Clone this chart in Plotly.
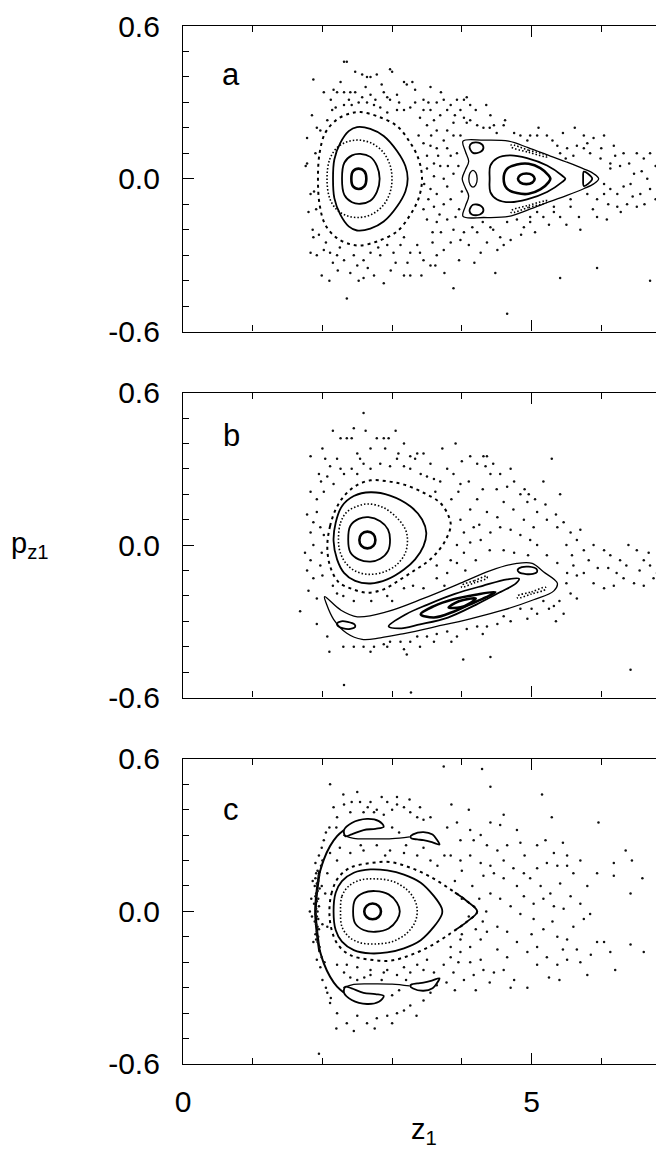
import plotly.graph_objects as go

# ---------------- tick labels ----------------
X_TICKS = [0, 5]
X_TICKTEXT = ["0", "5"]
X_MINOR = [1, 2, 3, 4, 6]
Y_TICKS = [-0.6, 0.0, 0.6]
Y_TICKTEXT = ["-0.6", "0.0", "0.6"]
Y_MINOR = [-0.5, -0.4, -0.3, -0.2, -0.1, 0.1, 0.2, 0.3, 0.4, 0.5]
PANEL_LABELS = ["a", "b", "c"]

# ---------------- panel a : invariant curves (z1, pz1) ----------------
A_R1 = [(2.415, 0), (2.44, 0.030), (2.52, 0.040), (2.60, 0.030), (2.63, 0), (2.60, -0.030), (2.52, -0.040), (2.44, -0.030), (2.415, 0)]
A_R2 = [(2.281, 0), (2.314, 0.063), (2.424, 0.092), (2.544, 0.098), (2.687, 0.086), (2.783, 0.050), (2.821, 0),
        (2.783, -0.050), (2.687, -0.086), (2.544, -0.098), (2.424, -0.092), (2.314, -0.063), (2.281, 0)]
A_R3 = [(2.066, 0), (2.104, 0.076), (2.209, 0.122), (2.353, 0.145), (2.520, 0.152), (2.711, 0.139), (2.879, 0.102),
        (2.974, 0.050), (2.998, 0), (2.974, -0.050), (2.879, -0.102), (2.711, -0.139), (2.520, -0.152), (2.353, -0.145),
        (2.209, -0.122), (2.104, -0.076), (2.066, 0)]
A_R4 = [(2.152, 0), (2.171, 0.076), (2.257, 0.141), (2.377, 0.187), (2.496, 0.203), (2.687, 0.196), (2.879, 0.168),
        (3.070, 0.109), (3.190, 0.050), (3.223, 0), (3.190, -0.050), (3.070, -0.109), (2.879, -0.168), (2.687, -0.196),
        (2.496, -0.203), (2.377, -0.187), (2.257, -0.141), (2.171, -0.076), (2.152, 0)]
A_R5 = [(1.936, 0), (1.960, 0.102), (2.042, 0.181), (2.209, 0.233), (2.400, 0.257), (2.544, 0.262), (2.783, 0.246),
        (3.070, 0.207), (3.261, 0.141), (3.381, 0.076), (3.429, 0), (3.381, -0.076), (3.261, -0.141), (3.070, -0.207),
        (2.783, -0.246), (2.544, -0.262), (2.400, -0.257), (2.209, -0.233), (2.042, -0.181), (1.960, -0.102), (1.936, 0)]
A_BAT = [(4.017, 0.148), (4.313, 0.152), (4.672, 0.148), (4.95, 0.122), (5.27, 0.089), (5.50, 0.066), (5.748, 0.039),
         (5.891, 0.020), (5.963, 0), (5.891, -0.020), (5.748, -0.039), (5.50, -0.066), (5.27, -0.089), (4.95, -0.122),
         (4.672, -0.148), (4.313, -0.152), (4.017, -0.148), (4.050, -0.108), (4.098, -0.068), (4.050, -0.035),
         (4.005, 0), (4.050, 0.035), (4.098, 0.068), (4.050, 0.108), (4.017, 0.148)]
A_TL = [(4.11, 0.126), (4.15, 0.141), (4.26, 0.140), (4.31, 0.124), (4.27, 0.106), (4.16, 0.102), (4.11, 0.126)]
A_BL = [(4.11, -0.126), (4.15, -0.141), (4.26, -0.140), (4.31, -0.124), (4.27, -0.106), (4.16, -0.102), (4.11, -0.126)]
A_ML = [(4.10, 0), (4.12, 0.024), (4.16, 0.033), (4.20, 0.024), (4.22, 0), (4.20, -0.024), (4.16, -0.033), (4.12, -0.024), (4.10, 0)]
A_TIP = [(5.74, 0), (5.75, 0.028), (5.81, 0.020), (5.87, 0), (5.81, -0.020), (5.75, -0.028), (5.74, 0)]
A_IN1 = [(4.399, 0), (4.409, 0.052), (4.505, 0.081), (4.696, 0.092), (4.935, 0.081), (5.222, 0.052), (5.437, 0.013),
         (5.485, 0), (5.437, -0.013), (5.222, -0.052), (4.935, -0.081), (4.696, -0.092), (4.505, -0.081), (4.409, -0.052), (4.399, 0)]
A_IN2 = [(4.600, 0), (4.648, 0.039), (4.791, 0.056), (4.959, 0.059), (5.126, 0.042), (5.246, 0.013), (5.270, 0),
         (5.246, -0.013), (5.126, -0.042), (4.959, -0.059), (4.791, -0.056), (4.648, -0.039), (4.600, 0)]
A_IN3 = [(4.805, 0), (4.84, 0.015), (4.925, 0.021), (5.01, 0.015), (5.045, 0), (5.01, -0.015), (4.925, -0.021), (4.84, -0.015), (4.805, 0)]
A_CH_T = [(4.71, 0.133), (4.96, 0.112), (5.22, 0.092), (5.23, 0.086), (4.96, 0.104), (4.71, 0.125), (4.71, 0.133)]
A_CH_B = [(4.71, -0.133), (4.96, -0.112), (5.22, -0.092), (5.23, -0.086), (4.96, -0.104), (4.71, -0.125), (4.71, -0.133)]

A_SCATTER = [
    (2.31, 0.46), (2.35, 0.46), (2.47, 0.42), (2.57, 0.41), (2.64, 0.40), (2.69, 0.40), (2.78, 0.41), (2.97, 0.43), (3.00, 0.42), (1.87, 0.39),
    (2.02, 0.34), (2.16, 0.35), (2.21, 0.34), (2.31, 0.34), (2.40, 0.34), (2.47, 0.34), (2.57, 0.32), (2.69, 0.33), (2.76, 0.31), (2.88, 0.34),
    (2.93, 0.32), (2.97, 0.31), (3.07, 0.33), (3.17, 0.38), (3.21, 0.37), (3.29, 0.38), (3.33, 0.35), (3.45, 0.31), (3.55, 0.36), (3.64, 0.30),
    (3.74, 0.31), (3.84, 0.29), (3.93, 0.31), (4.03, 0.31), (4.07, 0.32), (4.12, 0.29), (3.98, 0.27), (3.79, 0.27), (3.69, 0.25), (3.55, 0.27),
    (3.45, 0.27), (3.33, 0.30), (3.26, 0.28), (3.17, 0.27), (3.07, 0.27), (2.93, 0.26), (2.83, 0.28), (2.74, 0.29), (2.64, 0.30), (2.52, 0.30),
    (2.42, 0.29), (2.31, 0.29), (2.19, 0.28), (2.14, 0.27), (2.07, 0.23), (1.97, 0.19), (1.92, 0.20), (1.78, 0.16),
    (4.03, 0.24), (4.12, 0.23), (4.07, 0.22), (4.41, 0.25), (4.46, 0.21), (4.62, 0.23), (4.60, 0.21), (4.31, 0.20), (4.22, 0.21), (3.88, 0.22),
    (3.79, 0.19), (3.64, 0.19), (3.60, 0.23), (3.50, 0.21), (3.38, 0.17), (3.45, 0.14), (3.55, 0.13), (3.64, 0.12), (3.79, 0.12), (3.88, 0.17),
    (3.98, 0.17), (3.74, 0.15), (3.50, 0.09), (3.60, 0.06), (3.69, 0.05), (3.84, 0.09), (3.93, 0.10), (3.88, 0.02), (3.74, 0.00), (3.60, 0.01),
    (3.50, 0.04), (3.46, -0.02), (3.55, -0.04), (3.64, -0.06), (3.79, -0.03), (3.84, -0.08), (3.74, -0.10), (3.60, -0.11), (3.45, -0.12), (3.50, -0.16),
    (3.64, -0.17), (3.79, -0.16), (3.91, -0.15), (3.88, -0.20), (4.03, -0.21), (4.15, -0.19), (3.98, -0.24), (3.84, -0.25), (3.74, -0.28), (3.64, -0.30),
    (3.55, -0.34), (3.45, -0.32), (3.36, -0.26), (3.26, -0.29), (3.17, -0.23), (3.12, -0.26), (3.02, -0.29), (2.93, -0.26), (2.83, -0.30), (2.69, -0.29),
    (2.59, -0.32), (2.50, -0.34), (2.40, -0.37), (2.31, -0.32), (2.21, -0.30), (2.11, -0.29), (2.02, -0.28), (1.92, -0.30), (1.83, -0.29), (1.87, -0.23),
    (1.91, -0.12), (1.80, -0.13), (1.83, -0.06), (1.78, 0.06), (1.76, 0.05), (1.99, -0.38), (2.59, -0.39), (2.74, -0.38), (2.88, -0.41), (3.17, -0.38),
    (3.26, -0.38), (3.62, -0.34), (3.88, -0.43), (2.35, -0.47),
    (4.22, -0.21), (4.41, -0.19), (4.55, -0.23), (4.70, -0.24), (4.65, -0.17), (4.79, -0.16), (4.89, -0.19), (4.98, -0.15), (5.08, -0.13), (5.17, -0.15),
    (5.32, -0.11), (5.41, -0.15), (5.56, -0.11), (5.70, -0.20), (5.94, -0.15), (6.08, -0.16), (6.23, -0.11), (6.37, -0.10), (6.51, -0.11), (6.56, -0.06),
    (6.70, -0.04), (6.85, 0.01), (6.88, -0.11), (6.66, 0.00), (6.47, 0.02), (6.27, 0.05), (6.13, 0.06), (6.04, -0.02), (6.13, -0.04), (6.23, -0.06),
    (6.32, -0.03), (6.42, -0.02), (6.61, 0.08), (6.70, 0.10), (6.51, 0.10), (6.32, 0.10), (6.18, 0.13), (6.04, 0.17), (5.89, 0.16), (5.75, 0.17),
    (5.65, 0.13), (5.51, 0.12), (5.37, 0.13), (5.22, 0.17), (5.08, 0.17), (4.94, 0.15), (4.84, 0.17), (4.98, 0.17), (5.94, -0.35), (5.41, -0.39),
    (6.70, -0.40), (4.65, -0.53), (4.48, -0.37), (5.56, -0.08), (5.80, -0.06), (5.94, -0.08), (6.04, -0.06), (6.13, 0.04), (5.99, 0.08), (5.84, 0.10),
    (5.60, 0.09), (5.75, 0.12), (5.41, 0.10), (5.49, 0.08), (5.32, -0.13), (4.98, -0.17), (4.36, -0.25), (4.27, -0.29), (4.51, -0.28), (4.60, -0.26),
    (1.85, 0.25), (1.90, 0.10), (1.88, -0.05), (1.86, -0.20), (1.95, -0.22), (2.05, -0.25), (2.15, -0.33), (2.25, -0.27), (2.45, -0.30), (2.65, -0.35),
    (2.80, -0.27), (3.05, -0.33), (3.22, -0.33), (3.40, -0.29), (3.58, -0.25), (3.70, -0.21), (3.58, -0.21), (3.52, -0.08), (3.68, -0.14), (3.96, -0.12),
    (4.10, -0.26), (4.18, -0.33), (3.96, -0.32), (3.75, -0.37), (3.42, -0.38), (2.98, -0.36), (2.52, -0.40), (2.22, -0.36), (2.10, -0.40),
    (2.12, 0.31), (2.26, 0.38), (2.38, 0.31), (2.62, 0.36), (2.85, 0.37), (3.10, 0.30), (3.40, 0.24), (3.52, 0.30), (3.70, 0.34), (3.90, 0.25),
    (4.20, 0.27), (4.35, 0.29), (4.50, 0.18), (3.95, 0.05), (4.00, -0.05), (3.66, 0.09), (3.56, 0.17), (3.80, 0.05),
    (5.10, 0.20), (5.30, 0.15), (5.45, 0.18), (5.62, 0.20), (5.80, 0.14), (6.00, 0.12), (6.20, 0.09), (6.40, 0.06), (6.58, 0.03), (6.78, 0.05),
    (6.78, -0.08), (6.62, -0.10), (6.45, -0.07), (6.28, -0.13), (6.10, -0.10), (5.88, -0.12), (5.68, -0.15), (5.50, -0.18), (5.25, -0.18), (5.05, -0.21),
    (4.85, -0.22), (4.45, -0.20), (4.30, -0.17), (4.40, 0.20), (4.75, 0.18),
]

# ---------------- panel b ----------------
B_R1 = [(2.53, 0.020), (2.56, 0.043), (2.645, 0.053), (2.73, 0.043), (2.76, 0.020), (2.73, -0.003), (2.645, -0.013), (2.56, -0.003), (2.53, 0.020)]
B_R2 = [(2.37, 0.022), (2.40, 0.075), (2.52, 0.103), (2.66, 0.110), (2.83, 0.094), (2.94, 0.062), (2.97, 0.022),
        (2.94, -0.024), (2.83, -0.054), (2.69, -0.065), (2.52, -0.056), (2.40, -0.028), (2.37, 0.022)]
B_R3 = [(2.23, 0.022), (2.26, 0.088), (2.35, 0.130), (2.50, 0.153), (2.66, 0.162), (2.88, 0.147), (3.07, 0.107), (3.19, 0.062),
        (3.22, 0.022), (3.19, -0.030), (3.07, -0.076), (2.88, -0.106), (2.66, -0.115), (2.47, -0.102), (2.33, -0.069), (2.25, -0.024), (2.23, 0.022)]
B_R4 = [(2.16, 0.016), (2.19, 0.088), (2.28, 0.153), (2.45, 0.193), (2.69, 0.208), (2.97, 0.195), (3.26, 0.153), (3.43, 0.101),
        (3.49, 0.048), (3.45, -0.004), (3.33, -0.056), (3.17, -0.096), (2.93, -0.135), (2.69, -0.151), (2.47, -0.141), (2.31, -0.109),
        (2.21, -0.056), (2.16, 0.016)]
B_R5 = [(2.07, -0.004), (2.11, 0.075), (2.19, 0.140), (2.31, 0.193), (2.47, 0.232), (2.69, 0.255), (2.93, 0.251), (3.17, 0.238),
        (3.45, 0.206), (3.69, 0.166), (3.81, 0.114), (3.84, 0.075), (3.76, 0.016), (3.64, -0.030), (3.50, -0.067), (3.33, -0.098),
        (3.12, -0.135), (2.88, -0.174), (2.64, -0.187), (2.42, -0.172), (2.23, -0.145), (2.11, -0.083), (2.07, -0.004)]
B_BAND = [(2.03, -0.203), (2.26, -0.255), (2.50, -0.282), (2.93, -0.262), (3.45, -0.210), (3.98, -0.150), (4.41, -0.100),
          (4.79, -0.072), (5.01, -0.072), (5.17, -0.105), (5.37, -0.150), (5.32, -0.180), (5.03, -0.215), (4.60, -0.255),
          (4.12, -0.290), (3.64, -0.320), (3.17, -0.348), (2.83, -0.365), (2.57, -0.371), (2.35, -0.347), (2.16, -0.292),
          (2.06, -0.233), (2.03, -0.203)]
B_C1 = [(3.81, -0.245), (3.90, -0.228), (4.02, -0.216), (4.20, -0.210), (4.12, -0.228), (3.98, -0.245), (3.81, -0.245)]
B_C2 = [(3.41, -0.272), (3.60, -0.240), (3.88, -0.213), (4.20, -0.195), (4.48, -0.185), (4.35, -0.205), (4.10, -0.235),
        (3.88, -0.262), (3.60, -0.285), (3.41, -0.272)]
B_C3 = [(2.95, -0.320), (3.20, -0.272), (3.50, -0.235), (3.90, -0.192), (4.30, -0.160), (4.65, -0.135), (4.82, -0.132),
        (4.78, -0.150), (4.55, -0.185), (4.20, -0.235), (3.80, -0.285), (3.40, -0.312), (3.10, -0.328), (2.95, -0.320)]
B_I1 = [(4.80, -0.098), (4.86, -0.087), (4.96, -0.085), (5.07, -0.094), (5.08, -0.105), (5.02, -0.113), (4.92, -0.114), (4.82, -0.107), (4.80, -0.098)]
B_I2 = [(4.00, -0.158), (4.18, -0.140), (4.36, -0.122), (4.36, -0.130), (4.18, -0.148), (4.00, -0.166), (4.00, -0.158)]
B_I3 = [(4.80, -0.200), (5.00, -0.184), (5.20, -0.166), (5.20, -0.174), (5.00, -0.192), (4.80, -0.208), (4.80, -0.200)]
B_I4 = [(2.21, -0.308), (2.27, -0.300), (2.36, -0.302), (2.46, -0.312), (2.47, -0.322), (2.40, -0.330), (2.30, -0.328), (2.22, -0.318), (2.21, -0.308)]

B_SCATTER = [
    (2.59, 0.52), (3.91, 0.40), (4.31, 0.35), (4.36, 0.35), (5.29, 0.34), (5.17, 0.25), (4.96, 0.20), (5.41, 0.20), (6.42, -0.49), (2.31, -0.55),
    (3.27, -0.58), (4.41, -0.44), (3.21, -0.43),
    (1.83, 0.35), (2.04, 0.34), (2.11, 0.31), (2.21, 0.34), (2.26, 0.42), (2.35, 0.42), (2.42, 0.42), (2.50, 0.36), (2.54, 0.34), (2.69, 0.38),
    (2.78, 0.42), (2.88, 0.42), (2.95, 0.42), (3.09, 0.36), (3.17, 0.40), (3.26, 0.35), (3.36, 0.36), (3.45, 0.36), (3.33, 0.34),
    (2.07, 0.27), (2.16, 0.24), (2.26, 0.30), (2.31, 0.28), (2.42, 0.30), (2.50, 0.28), (2.59, 0.32), (2.69, 0.30), (2.83, 0.32), (2.97, 0.31),
    (3.07, 0.34), (3.17, 0.31), (3.26, 0.30), (3.41, 0.28), (3.50, 0.27), (3.60, 0.26), (3.69, 0.25), (3.79, 0.30), (3.88, 0.28), (3.98, 0.24),
    (4.12, 0.35), (4.22, 0.32), (4.34, 0.31), (4.41, 0.28), (4.55, 0.28), (4.65, 0.23), (4.84, 0.20), (4.94, 0.17), (5.08, 0.13), (5.22, 0.10),
    (5.37, 0.07), (5.46, 0.09), (5.56, 0.05), (5.65, 0.02), (5.75, -0.02), (5.89, 0.00), (6.04, -0.02), (6.13, -0.04), (6.27, -0.06), (6.39, 0.00),
    (6.51, -0.02), (6.61, -0.06), (6.70, -0.08), (6.80, -0.11), (6.88, -0.12), (6.75, -0.13), (6.61, -0.16), (6.47, -0.15), (6.32, -0.13), (6.18, -0.16),
    (6.04, -0.17), (5.89, -0.15), (5.75, -0.11), (5.60, -0.08), (5.65, -0.12), (5.56, -0.19), (5.65, -0.21), (5.46, -0.27), (5.32, -0.24), (5.17, -0.22),
    (5.08, -0.27), (4.94, -0.29), (4.84, -0.25), (4.60, -0.28), (4.51, -0.31), (4.36, -0.32), (4.22, -0.32), (4.07, -0.33), (3.93, -0.36), (3.79, -0.34),
    (3.64, -0.35), (3.50, -0.36), (3.36, -0.36), (3.26, -0.38), (3.12, -0.38), (2.97, -0.38), (2.88, -0.39), (2.74, -0.40), (2.59, -0.40), (2.45, -0.40),
    (2.69, -0.42), (2.93, -0.40), (3.17, -0.41),
    (1.92, -0.31), (2.07, -0.36), (1.87, -0.13), (1.92, -0.21), (1.68, -0.26), (1.78, -0.10), (1.83, -0.06), (1.87, 0.00), (1.83, 0.05), (1.87, 0.09),
    (1.92, 0.13), (1.92, 0.18), (2.02, 0.21), (1.83, 0.21), (1.97, 0.07), (2.02, 0.04), (1.99, -0.03), (1.97, -0.08), (2.15, -0.16), (2.21, -0.19),
    (2.93, -0.20), (3.17, -0.17), (3.45, -0.17), (3.64, -0.13), (3.79, -0.11), (3.93, -0.07), (4.03, -0.03), (4.12, 0.01), (4.27, 0.02), (4.41, 0.05),
    (4.55, 0.07), (4.70, 0.06), (4.84, 0.04), (4.98, 0.02), (5.08, 0.00), (5.22, -0.04), (5.37, -0.07), (5.51, -0.11),
    (3.98, 0.10), (4.12, 0.14), (4.22, 0.18), (4.36, 0.13), (4.51, 0.11), (4.60, 0.17), (4.74, 0.14), (4.89, 0.10), (5.03, 0.07), (4.03, 0.05),
    (4.17, 0.07), (3.93, 0.00), (3.84, -0.06), (3.64, -0.08),
    (1.95, 0.28), (2.00, 0.38), (2.15, 0.45), (2.45, 0.46), (2.62, 0.45), (2.90, 0.38), (3.05, 0.45), (3.55, 0.32), (3.72, 0.38), (4.00, 0.33),
    (4.45, 0.32), (4.70, 0.30), (3.62, 0.21), (3.85, 0.18), (3.95, 0.21), (4.10, 0.25), (4.30, 0.22), (4.50, 0.22), (4.75, 0.25), (4.90, 0.22),
    (5.05, 0.18), (5.20, 0.16), (5.35, 0.12), (5.50, 0.00), (5.58, -0.04), (5.70, 0.06), (5.82, -0.06), (5.95, -0.09), (6.10, -0.09), (6.22, -0.11),
    (6.36, -0.08), (6.55, -0.10), (6.68, -0.03), (6.82, -0.05), (4.25, 0.08), (4.40, -0.02), (4.60, -0.02), (4.75, -0.03), (4.95, -0.04), (4.20, -0.06),
    (4.05, -0.10), (3.75, -0.16), (3.30, -0.16), (3.00, -0.22), (2.70, -0.22), (2.45, -0.22), (2.30, -0.20), (1.80, -0.18), (1.75, -0.03), (1.78, 0.12),
    (1.98, 0.25), (2.00, -0.12), (2.10, -0.42), (2.30, -0.40), (3.40, -0.40), (3.60, -0.38), (3.85, -0.38), (4.30, -0.35), (4.70, -0.30), (5.00, -0.25),
    (5.25, -0.25), (5.40, -0.22), (5.50, -0.15), (5.35, -0.30), (4.02, -0.45),
]

# ---------------- panel c ----------------
C_R1 = [(2.60, 0), (2.635, 0.022), (2.72, 0.031), (2.805, 0.022), (2.84, 0), (2.805, -0.022), (2.72, -0.031), (2.635, -0.022), (2.60, 0)]
C_R2 = [(2.44, 0), (2.47, 0.047), (2.59, 0.073), (2.76, 0.080), (2.95, 0.067), (3.07, 0.034), (3.11, 0),
        (3.07, -0.034), (2.95, -0.067), (2.76, -0.080), (2.59, -0.073), (2.47, -0.047), (2.44, 0)]
C_R3 = [(2.26, 0), (2.28, 0.060), (2.38, 0.100), (2.54, 0.123), (2.76, 0.128), (3.00, 0.119), (3.21, 0.086), (3.33, 0.041),
        (3.36, 0), (3.33, -0.041), (3.21, -0.086), (3.00, -0.119), (2.76, -0.128), (2.54, -0.123), (2.38, -0.100), (2.28, -0.060), (2.26, 0)]
C_R4 = [(2.16, 0), (2.19, 0.073), (2.28, 0.119), (2.45, 0.152), (2.69, 0.165), (2.93, 0.161), (3.17, 0.145), (3.41, 0.113),
        (3.60, 0.060), (3.71, 0.014), (3.72, 0), (3.71, -0.014), (3.60, -0.060), (3.41, -0.113), (3.17, -0.145), (2.93, -0.161),
        (2.69, -0.165), (2.45, -0.152), (2.28, -0.119), (2.19, -0.073), (2.16, 0)]
C_R5 = [(2.10, 0), (2.13, 0.070), (2.22, 0.130), (2.40, 0.172), (2.69, 0.190), (2.97, 0.194), (3.26, 0.172), (3.55, 0.136),
        (3.84, 0.086), (4.07, 0.041), (4.22, 0), (4.07, -0.041), (3.84, -0.086), (3.55, -0.136), (3.26, -0.172), (2.97, -0.194),
        (2.69, -0.190), (2.40, -0.172), (2.22, -0.130), (2.13, -0.070), (2.10, 0)]
C_TIP = [(3.90, 0.074), (4.07, 0.041), (4.22, 0), (4.07, -0.041), (3.90, -0.074)]
C_CR_T = [(2.31, 0.320), (2.42, 0.348), (2.64, 0.364), (2.81, 0.355), (2.88, 0.333), (2.76, 0.325), (2.59, 0.320), (2.42, 0.303), (2.33, 0.296), (2.31, 0.320)]
C_CR_B = [(2.31, -0.320), (2.42, -0.348), (2.64, -0.364), (2.81, -0.355), (2.88, -0.333), (2.76, -0.325), (2.59, -0.320), (2.42, -0.303), (2.33, -0.296), (2.31, -0.320)]
C_TD_T = [(3.26, 0.293), (3.30, 0.303), (3.45, 0.312), (3.58, 0.302), (3.64, 0.283), (3.68, 0.263), (3.57, 0.272), (3.45, 0.280), (3.36, 0.283), (3.28, 0.287), (3.26, 0.293)]
C_TD_B = [(3.26, -0.293), (3.30, -0.303), (3.45, -0.312), (3.58, -0.302), (3.64, -0.283), (3.68, -0.263), (3.57, -0.272), (3.45, -0.280), (3.36, -0.283), (3.28, -0.287), (3.26, -0.293)]
C_LN_T = [(2.30, 0.300), (2.45, 0.287), (2.70, 0.285), (3.00, 0.286), (3.25, 0.293)]
C_LN_B = [(2.30, -0.300), (2.45, -0.287), (2.70, -0.285), (3.00, -0.286), (3.25, -0.293)]
C_ARC_T = [(2.31, 0.320), (2.21, 0.296), (2.11, 0.257), (2.02, 0.204), (1.96, 0.152)]
C_ARC_B = [(1.96, -0.152), (2.02, -0.204), (2.11, -0.257), (2.21, -0.296), (2.31, -0.320)]
C_BAND = [(1.96, 0.16), (1.93, 0.10), (1.91, 0.05), (1.90, 0.0), (1.91, -0.05), (1.93, -0.10), (1.96, -0.16)]

C_SCATTER = [
    (3.74, 0.57), (4.29, 0.56), (4.41, 0.49), (5.15, 0.46), (5.29, 0.37), (5.96, 0.35), (6.85, 0.49), (2.11, 0.50), (3.07, 0.45), (1.95, -0.56),
    (6.35, 0.24), (6.44, 0.20), (6.18, 0.19), (5.94, 0.15), (6.18, 0.14), (6.59, 0.13), (6.42, 0.07), (6.85, -0.14), (6.61, -0.16), (6.42, -0.13),
    (6.13, -0.16), (6.20, -0.23), (5.80, -0.25), (5.94, -0.12), (6.04, -0.12),
    (2.16, 0.41), (2.31, 0.42), (2.42, 0.43), (2.54, 0.43), (2.69, 0.43), (2.78, 0.40), (2.93, 0.43), (3.07, 0.42), (3.17, 0.41), (3.26, 0.39),
    (3.36, 0.37), (3.45, 0.36), (3.55, 0.37), (2.21, 0.37), (2.40, 0.39), (2.59, 0.39), (2.74, 0.39), (2.88, 0.38),
    (3.79, 0.33), (3.93, 0.35), (4.12, 0.32), (4.27, 0.30), (4.41, 0.35), (4.55, 0.34), (4.79, 0.32), (3.98, 0.28), (4.17, 0.28), (4.36, 0.26),
    (4.51, 0.24), (4.65, 0.26), (4.84, 0.27), (5.08, 0.26), (5.32, 0.23), (5.51, 0.22), (3.84, 0.22), (3.98, 0.20), (4.12, 0.22), (4.27, 0.19),
    (4.41, 0.18), (4.60, 0.20), (4.74, 0.17), (4.89, 0.15), (5.08, 0.17), (5.22, 0.19), (5.37, 0.18), (5.51, 0.18), (5.60, 0.15), (4.98, 0.13),
    (5.13, 0.10), (5.27, 0.07), (5.41, 0.11), (5.56, 0.06), (5.70, 0.03), (5.84, -0.01), (5.75, -0.03), (5.60, -0.06), (5.46, 0.01), (5.32, 0.02),
    (5.17, 0.05), (5.03, 0.03), (4.89, 0.06), (4.79, 0.10), (4.60, 0.13), (4.46, 0.15), (4.31, 0.14), (4.41, 0.07), (4.55, 0.05), (4.70, 0.02),
    (4.84, -0.01), (5.03, -0.03), (5.17, -0.07), (5.37, -0.10), (5.51, -0.11), (5.65, -0.15), (5.51, -0.19), (5.37, -0.21), (5.22, -0.18), (5.08, -0.14),
    (4.94, -0.16), (4.79, -0.12), (4.65, -0.08), (4.51, -0.06), (4.36, -0.08), (4.27, -0.11), (4.12, -0.14), (3.98, -0.16), (3.84, -0.18), (3.74, -0.21),
    (3.88, -0.24), (4.03, -0.27), (4.17, -0.25), (4.31, -0.23), (4.46, -0.24), (4.60, -0.23), (4.75, -0.27), (4.94, -0.30), (5.08, -0.21), (4.65, -0.18),
    (4.51, -0.15), (4.27, -0.19), (4.12, -0.20), (3.98, -0.11), (3.84, -0.14), (3.50, -0.19),
    (2.21, -0.40), (2.35, -0.44), (2.50, -0.41), (2.64, -0.44), (2.78, -0.42), (2.93, -0.41), (3.07, -0.40), (3.17, -0.39), (3.26, -0.37), (3.45, -0.35),
    (3.55, -0.32), (3.64, -0.29), (2.11, -0.36), (2.07, -0.32), (2.21, -0.21), (2.35, -0.21), (2.50, -0.22), (2.69, -0.23), (2.93, -0.23), (3.17, -0.22),
    (3.36, -0.21), (3.45, -0.23), (3.26, -0.24), (3.07, -0.25), (2.88, -0.24), (2.69, -0.25), (2.50, -0.27), (2.31, -0.24),
    (2.11, 0.23), (2.21, 0.20), (2.40, 0.23), (2.59, 0.24), (2.78, 0.26), (2.97, 0.24), (3.17, 0.23), (3.36, 0.22), (3.55, 0.20), (2.07, 0.15),
    (2.04, 0.07), (2.07, -0.06), (3.00, 0.33), (3.10, 0.31), (3.00, -0.33), (3.10, -0.31),
    (1.93, 0.16), (1.91, 0.15), (1.95, 0.14), (1.90, 0.13), (1.94, 0.12), (1.92, 0.11), (1.89, 0.10), (1.96, 0.09), (1.93, 0.08), (1.91, 0.07),
    (1.90, 0.06), (1.94, 0.05), (1.92, 0.04), (1.88, 0.03), (1.95, 0.02), (1.91, 0.01), (1.93, 0.00), (1.90, -0.01), (1.92, -0.02), (1.94, -0.03),
    (1.89, -0.04), (1.91, -0.05), (1.93, -0.06), (1.95, -0.07), (1.92, -0.08), (1.90, -0.09), (1.94, -0.10), (1.91, -0.11), (1.93, -0.12), (1.96, -0.14),
    (1.84, 0.05), (1.85, -0.02), (1.82, 0.00), (1.99, 0.10), (2.00, -0.05), (1.86, 0.12), (1.87, -0.12), (1.98, 0.18), (1.99, -0.18), (1.95, 0.22),
    (1.97, -0.22), (1.99, 0.25), (2.02, 0.28), (2.00, -0.27), (2.05, -0.30), (2.05, 0.31), (2.10, 0.33), (2.12, -0.34), (2.00, 0.20), (2.03, -0.20),
    (1.90, 0.19), (1.92, -0.19),
    (2.30, 0.46), (2.50, 0.47), (2.65, 0.41), (2.85, 0.45), (3.00, 0.40), (3.25, 0.44), (3.40, 0.41), (2.20, 0.33), (2.25, 0.25), (2.55, 0.26),
    (2.90, 0.22), (3.20, 0.26), (3.45, 0.25), (3.75, 0.22), (3.65, 0.18), (3.90, 0.12), (4.00, 0.16), (4.15, 0.10), (4.25, 0.05), (4.35, 0.00),
    (4.30, -0.04), (4.20, -0.07), (4.00, -0.09), (3.95, -0.20), (3.78, -0.28), (3.60, -0.24), (2.40, -0.26), (2.60, -0.26), (2.85, -0.27), (3.20, -0.27),
    (2.20, -0.46), (2.45, -0.47), (2.75, -0.46), (3.00, -0.44), (3.35, -0.41), (3.90, -0.31), (4.20, -0.31), (4.40, -0.28), (4.70, -0.30), (5.25, -0.26),
    (5.40, -0.27), (5.70, -0.20), (5.85, -0.17), (5.00, -0.09), (5.30, -0.04), (5.45, -0.15), (4.90, 0.22), (5.20, 0.28), (5.45, 0.27), (5.70, 0.20),
    (5.80, 0.10), (4.10, 0.40), (4.60, 0.38), (3.85, 0.42), (4.00, 0.05), (4.10, -0.02),
]

# ---------------- styles ----------------
THICK = dict(width=2.6)
SOLID = dict(width=1.8)
THIN = dict(width=1.3)
DOTTED = dict(width=1.6, dash="1.5px,2px")
DASHED = dict(width=2.0, dash="3px,4px")

PANELS = [
    ("x", "y", [(A_R1, THICK), (A_R2, SOLID), (A_R3, DOTTED), (A_R4, SOLID), (A_R5, DASHED), (A_BAT, THIN),
                (A_TL, SOLID), (A_BL, SOLID), (A_ML, THIN), (A_TIP, SOLID), (A_IN1, SOLID), (A_IN2, THICK),
                (A_IN3, THICK), (A_CH_T, DOTTED), (A_CH_B, DOTTED)], A_SCATTER),
    ("x2", "y2", [(B_R1, THICK), (B_R2, SOLID), (B_R3, DOTTED), (B_R4, SOLID), (B_R5, DASHED), (B_BAND, THIN),
                  (B_C1, THICK), (B_C2, THICK), (B_C3, SOLID), (B_I1, SOLID), (B_I2, DOTTED), (B_I3, DOTTED),
                  (B_I4, SOLID)], B_SCATTER),
    ("x3", "y3", [(C_R1, THICK), (C_R2, SOLID), (C_R3, DOTTED), (C_R4, SOLID), (C_R5, DASHED), (C_TIP, SOLID),
                  (C_CR_T, SOLID), (C_CR_B, SOLID), (C_TD_T, SOLID), (C_TD_B, SOLID), (C_LN_T, THIN), (C_LN_B, THIN),
                  (C_ARC_T, dict(width=2.0)), (C_ARC_B, dict(width=2.0)), (C_BAND, dict(width=2.6))], C_SCATTER),
]

fig = go.Figure()
for xa, ya, curves, scatter in PANELS:
    for pts, style in curves:
        fig.add_trace(go.Scatter(
            x=[p[0] for p in pts], y=[p[1] for p in pts], mode="lines",
            line=dict(color="black", shape="spline", smoothing=1.0, **style),
            xaxis=xa, yaxis=ya, hoverinfo="skip", showlegend=False))
    fig.add_trace(go.Scatter(
        x=[p[0] for p in scatter], y=[p[1] for p in scatter], mode="markers",
        marker=dict(color="#111111", size=2.5, line=dict(width=0)),
        xaxis=xa, yaxis=ya, hoverinfo="skip", showlegend=False))

FONT = "Liberation Sans, Arial, sans-serif"
DOMAINS = [[0.7056, 1.0], [0.3530, 0.6468], [0.0, 0.2940]]
# the page body adds an 8 px offset, so the figure is 8 px smaller than the window
layout = dict(width=656, height=1145, margin=dict(l=175, r=0, t=18, b=89, autoexpand=False),
              plot_bgcolor="white", paper_bgcolor="white", showlegend=False,
              font=dict(family=FONT, color="black"))
for i, dom in enumerate(DOMAINS):
    sfx = "" if i == 0 else str(i + 1)
    layout["xaxis" + sfx] = dict(
        domain=[0, 1], anchor="y" + sfx, range=[0, 6.9], showline=True, linecolor="black", linewidth=1.3,
        mirror="ticks", ticks="inside", ticklen=11, tickwidth=1.3, tickcolor="black", automargin=False,
        tickmode="array", tickvals=X_TICKS, ticktext=X_TICKTEXT, showticklabels=(i == 2),
        tickfont=dict(size=30, family=FONT), ticklabelstandoff=11,
        minor=dict(tickmode="array", tickvals=X_MINOR, ticks="inside", ticklen=6, tickwidth=1.1, tickcolor="black"),
        showgrid=False, zeroline=False)
    layout["yaxis" + sfx] = dict(
        domain=dom, anchor="x" + sfx, range=[-0.6, 0.6], showline=True, linecolor="black", linewidth=1.3,
        ticks="inside", ticklen=11, tickwidth=1.3, tickcolor="black", automargin=False,
        tickmode="array", tickvals=Y_TICKS, ticktext=Y_TICKTEXT,
        tickfont=dict(size=30, family=FONT), ticklabelstandoff=16,
        minor=dict(tickmode="array", tickvals=Y_MINOR, ticks="inside", ticklen=6, tickwidth=1.1, tickcolor="black"),
        showgrid=False, zeroline=False)
fig.update_layout(**layout)

annotations = []
LABEL_POS = [(0.69, 0.41), (0.69, 0.43), (0.69, 0.40)]
for i, (lab, (lx, ly)) in enumerate(zip(PANEL_LABELS, LABEL_POS)):
    sfx = "" if i == 0 else str(i + 1)
    annotations.append(dict(text=lab, x=lx, y=ly, xref="x" + sfx, yref="y" + sfx, showarrow=False,
                            xanchor="center", yanchor="middle", font=dict(size=31, family=FONT)))
annotations.append(dict(text="p<sub>z1</sub>", x=-0.318, y=0.5, xref="paper", yref="paper", showarrow=False,
                        xanchor="center", yanchor="middle", font=dict(size=29, family=FONT)))
annotations.append(dict(text="z<sub>1</sub>", x=0.5, y=-0.065, xref="paper", yref="paper", showarrow=False,
                        xanchor="center", yanchor="middle", font=dict(size=29, family=FONT)))
fig.update_layout(annotations=annotations)

fig.write_html("out.html")
